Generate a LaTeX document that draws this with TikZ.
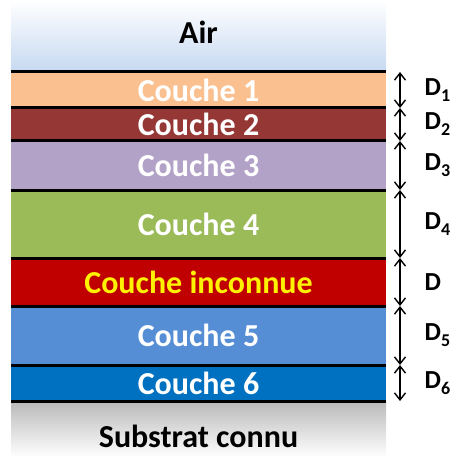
\documentclass[tikz,border=0pt]{standalone}
\usepackage{fontspec}
\setmainfont{Carlito}
\usetikzlibrary{positioning,arrows.meta}
\definecolor{airblue}{RGB}{198,217,241}
\definecolor{peach}{RGB}{250,192,144}
\definecolor{brick}{RGB}{149,55,53}
\definecolor{lavender}{RGB}{179,162,199}
\definecolor{leaf}{RGB}{155,187,89}
\definecolor{deepred}{RGB}{192,0,0}
\definecolor{skyblue}{RGB}{85,142,213}
\definecolor{seablue}{RGB}{0,112,192}
\definecolor{substgray}{RGB}{185,185,185}
\newcommand{\thk}[1]{D\raisebox{-6pt}{\fontsize{18}{18}\selectfont #1}}
\tikzset{
  lay/.style={rectangle, minimum width=375pt, inner sep=0pt, outer sep=0pt,
              text=white, font=\fontsize{32}{38}\selectfont\bfseries},
  sep/.style={black, line width=3pt},
  dim/.style={{Straight Barb[length=7pt,width=11pt]}-{Straight Barb[length=7pt,width=11pt]},
              black, line width=1.4pt},
  lbl/.style={right=24pt, inner sep=0pt, font=\fontsize{26}{30}\selectfont\bfseries}
}
\begin{document}
\begin{tikzpicture}[x=1pt, y=1pt, node distance=0pt]
  \useasboundingbox (0,0) rectangle (453,-457);
  \node[lay, minimum height=72pt, top color=white, bottom color=airblue,
        text=black, text depth=7pt, anchor=north] (air) at (198.5,0) {Air};
  \node[lay, minimum height=36pt, fill=peach, below=of air] (c1) {Couche 1};
  \node[lay, minimum height=33pt, fill=brick, below=of c1] (c2) {Couche 2};
  \node[lay, minimum height=49pt, fill=lavender, below=of c2] (c3) {Couche 3};
  \node[lay, minimum height=68pt, fill=leaf, below=of c3] (c4) {Couche 4};
  \node[lay, minimum height=48pt, fill=deepred, text=yellow, below=of c4] (cx) {Couche inconnue};
  \node[lay, minimum height=59pt, fill=skyblue, below=of cx] (c5) {Couche 5};
  \node[lay, minimum height=36pt, fill=seablue, below=of c5] (c6) {Couche 6};
  \node[lay, minimum height=56pt, top color=substgray, bottom color=white,
        text=black, text height=36pt, text depth=0pt, below=of c6] (sub) {Substrat connu};
  % interfaces
  \foreach \n in {air,c1,c2,c3,c4,cx,c5,c6}
    \draw[sep] (\n.south west) -- (\n.south east);
  % thicknesses
  \coordinate (ar) at (400,0);
  \foreach \n/\d in {c1/\thk{1}, c2/\thk{2}, c3/\thk{3},
                     c4/\thk{4}, cx/D, c5/\thk{5}, c6/\thk{6}}
    \draw[dim] (ar |- \n.north) -- (ar |- \n.south) node[midway, lbl] {\d};
\end{tikzpicture}
\end{document}
